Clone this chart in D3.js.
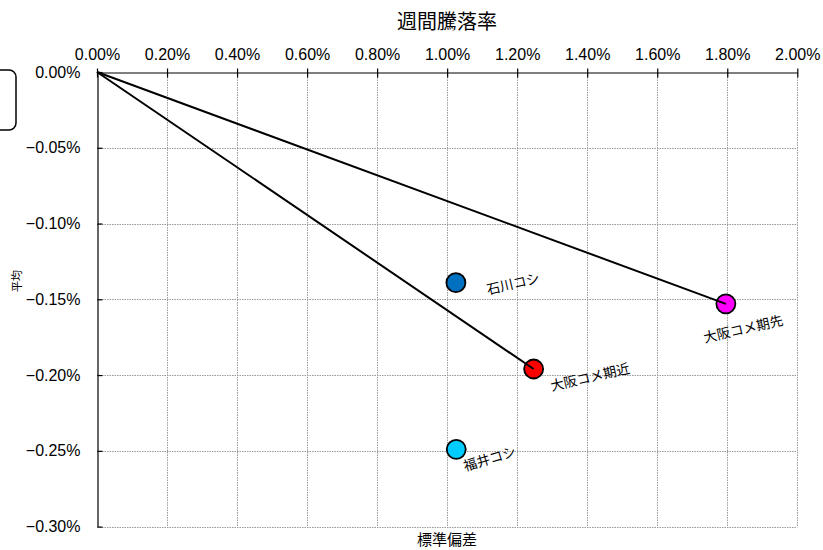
<!DOCTYPE html>
<html><head><meta charset="utf-8">
<script src="https://cdn.jsdelivr.net/npm/d3@7"></script>
<style>
html,body{margin:0;padding:0;background:#fff;}
svg{display:block;}
</style></head>
<body>
<script>
// ---- data ----
const names = ["石川コシ", "大阪コメ期近", "大阪コメ期先", "福井コシ"];
const stdDev = [1.025, 1.247, 1.796, 1.026];     // 標準偏差 (%)
const meanRet = [-0.139, -0.196, -0.153, -0.249]; // 平均 (%)
const colors = ["#0070C0", "#FF0000", "#FF00FF", "#00CCFF"];
const linkedToOrigin = ["大阪コメ期近", "大阪コメ期先"];
const xTicks = [0, 0.2, 0.4, 0.6, 0.8, 1.0, 1.2, 1.4, 1.6, 1.8, 2.0];
const yTicks = [0, -0.05, -0.10, -0.15, -0.20, -0.25, -0.30];
const title = "週間騰落率", xTitle = "標準偏差", yTitle = "平均";

// ---- layout (style only) ----
const W = 823, H = 550;
const labelLayout = {
  "石川コシ": {dx: 32, dy: 12, rot: -13},
  "大阪コメ期近": {dx: 18, dy: 22, rot: -13},
  "大阪コメ期先": {dx: -21, dy: 39, rot: -13},
  "福井コシ": {dx: 9, dy: 22, rot: -17}
};
const tickFont = "'Liberation Sans', Arial, sans-serif";
const jpFont = "'Noto Sans CJK JP', sans-serif";

const svg = d3.select("body").append("svg").attr("width", W).attr("height", H);
const x = d3.scaleLinear().domain([0, 2.0]).range([97, 797.3]);
const y = d3.scaleLinear().domain([-0.30, 0]).range([526.6, 72]);
const fmt = d => (d < 0 ? "\u2212" : "") + Math.abs(d).toFixed(2) + "%";

// clipped box at left
svg.append("rect").attr("x", -20).attr("y", 70).attr("width", 36).attr("height", 60)
  .attr("rx", 7).attr("fill", "none").attr("stroke", "#000").attr("stroke-width", 1.5);

// grid
const grid = svg.append("g").attr("stroke", "#9a9a9a").attr("stroke-width", 1).attr("stroke-dasharray", "1.5,1");
grid.selectAll("line.v").data(xTicks.filter(d => d > 0)).join("line")
  .attr("x1", d => Math.round(x(d)) + 0.5).attr("x2", d => Math.round(x(d)) + 0.5)
  .attr("y1", y(0)).attr("y2", y(-0.30));
grid.selectAll("line.h").data(yTicks.filter(d => d < 0)).join("line")
  .attr("y1", d => Math.round(y(d)) + 0.5).attr("y2", d => Math.round(y(d)) + 0.5)
  .attr("x1", x(0)).attr("x2", x(2.0));

// top axis
const xAxis = d3.axisTop(x).tickValues(xTicks).tickFormat(fmt).tickSizeInner(5).tickSizeOuter(0).tickPadding(8);
const gx = svg.append("g").attr("transform", `translate(0,${Math.round(y(0)) + 0.5})`).call(xAxis);
gx.select(".domain").attr("stroke", "#000").attr("stroke-width", 1.2);
gx.selectAll(".tick line").attr("stroke", "#000").attr("y2", -4).attr("y1", 5).attr("stroke-width", 1.2);
gx.selectAll(".tick text").attr("font-family", tickFont).attr("font-size", 16).attr("fill", "#000");

// left axis
const yAxis = d3.axisLeft(y).tickValues(yTicks).tickFormat(fmt).tickSizeInner(-5).tickSizeOuter(0).tickPadding(17);
const gy = svg.append("g").attr("transform", `translate(${Math.round(x(0)) + 0.5},0)`).call(yAxis);
gy.select(".domain").attr("stroke", "#000").attr("stroke-width", 1.2);
gy.selectAll(".tick line").attr("stroke", "#000").attr("stroke-width", 1.2);
gy.selectAll(".tick text").attr("font-family", tickFont).attr("font-size", 16).attr("fill", "#000");

// titles
svg.append("text").attr("x", 447).attr("y", 29).attr("text-anchor", "middle")
  .attr("font-family", jpFont).attr("font-size", 20).text(title);
svg.append("text").attr("x", 447).attr("y", 545).attr("text-anchor", "middle")
  .attr("font-family", jpFont).attr("font-size", 15).text(xTitle);
svg.append("text").attr("transform", "translate(21,281) rotate(-90)").attr("text-anchor", "middle")
  .attr("font-family", jpFont).attr("font-size", 11).text(yTitle);

// points
const pts = names.map((n, i) => ({name: n, sx: stdDev[i], my: meanRet[i], color: colors[i]}));
svg.append("g").selectAll("circle").data(pts).join("circle")
  .attr("cx", d => x(d.sx)).attr("cy", d => y(d.my)).attr("r", 9.5)
  .attr("fill", d => d.color).attr("stroke", "#000").attr("stroke-width", 1.8);

// lines from origin
svg.append("g").selectAll("line").data(pts.filter(d => linkedToOrigin.includes(d.name))).join("line")
  .attr("x1", x(0)).attr("y1", y(0)).attr("x2", d => x(d.sx)).attr("y2", d => y(d.my))
  .attr("stroke", "#000").attr("stroke-width", 2);

// labels
svg.append("g").selectAll("text").data(pts).join("text")
  .attr("transform", d => {
    const L = labelLayout[d.name];
    return `translate(${x(d.sx) + L.dx},${y(d.my) + L.dy}) rotate(${L.rot})`;
  })
  .attr("font-family", jpFont).attr("font-size", 13.5).attr("fill", "#000").text(d => d.name);
</script>
</body></html>
